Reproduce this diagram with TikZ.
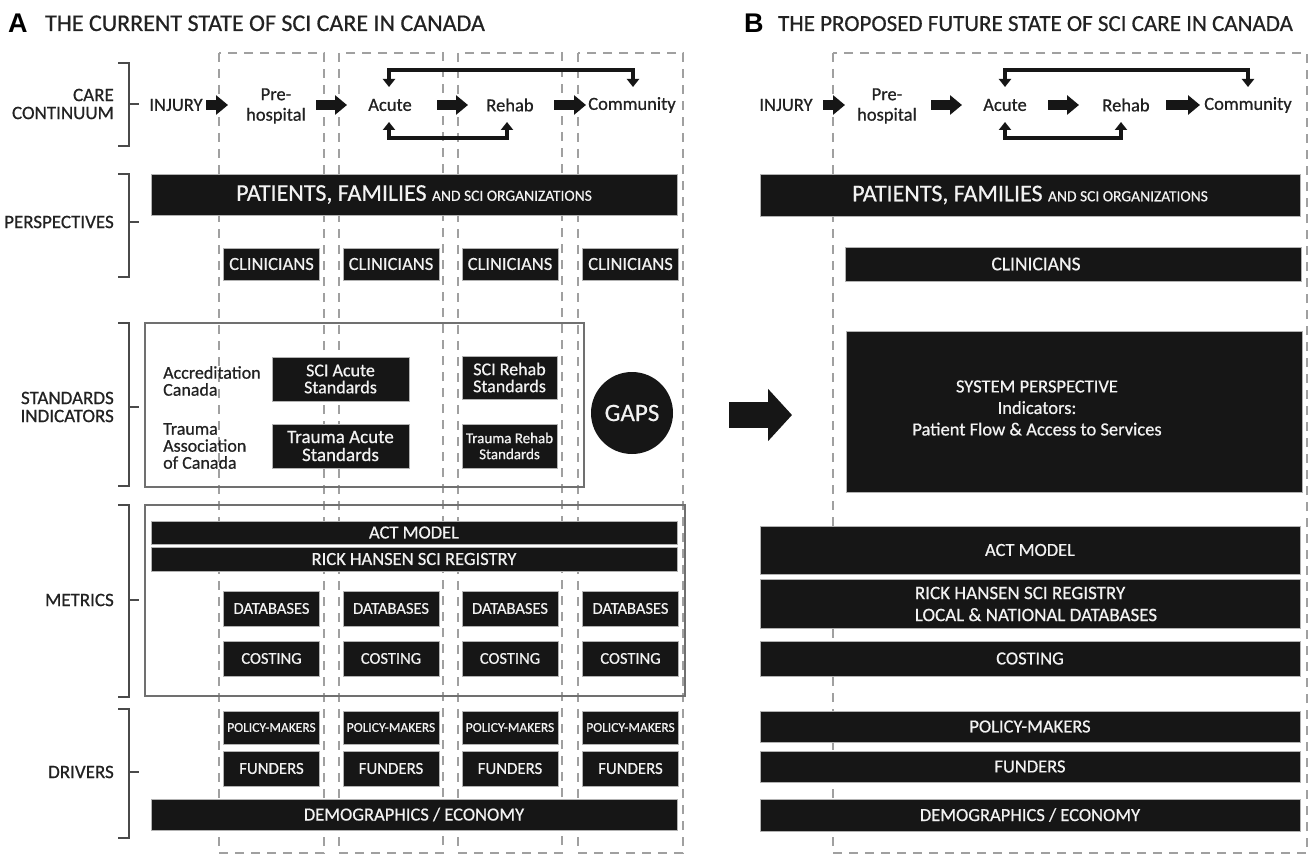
\documentclass[tikz,border=0pt]{standalone}
\usepackage{fontspec}
\setmainfont{Carlito}[FakeBold=0.6]
\newfontfamily\hvfont{Liberation Sans}
\usetikzlibrary{arrows.meta}
\definecolor{boxc}{HTML}{161616}
\definecolor{dashc}{HTML}{A0A0A0}
\definecolor{brc}{HTML}{4A4A4A}
\definecolor{frc}{HTML}{707070}
\definecolor{txw}{HTML}{F2F2F2}
\definecolor{txk}{HTML}{222222}
\newcommand\myfs[1]{\fontsize{#1}{#1}\selectfont}
\tikzset{
  colrect/.style={draw=dashc, line width=1.4pt, dash pattern=on 9pt off 7pt},
  bx/.style={fill=boxc, draw=gray!60, line width=0.7pt, text=txw, inner sep=0pt, align=center, font=\myfs{18.5}},
  lbl/.style={align=right, anchor=east, font=\myfs{19}, text=txk, inner sep=0pt},
  brk/.style={draw=brc, line width=1.5pt},
  frm/.style={draw=frc, line width=2pt},
  blk/.style={line width=10pt, draw=boxc, -{Triangle[length=12pt,width=19pt]}},
  fbk/.style={line width=4pt, draw=boxc, line join=miter, {Triangle[length=8pt,width=12pt]}-{Triangle[length=8pt,width=12pt]}},
  ct/.style={font=\myfs{18.5}, align=center, inner sep=0pt, text=txk},
  wt/.style={font=\myfs{18.5}, align=center, inner sep=0pt, text=txw}
}
\begin{document}
\begin{tikzpicture}[x=1pt, y=-1pt]
\useasboundingbox (0,0) rectangle (1309,856);
\fill[white] (0,0) rectangle (1309,856);

% titles
\node[anchor=base west, inner sep=0pt, font=\hvfont\bfseries\myfs{27}] (tA) at (8,33) {A};
\node[anchor=base west, inner sep=0pt, font=\myfs{24}, text=txk] (tAt) at (45,31) {THE CURRENT STATE OF SCI CARE IN CANADA};
\node[anchor=base west, inner sep=0pt, font=\hvfont\bfseries\myfs{27}] (tB) at (744,33) {B};
\node[anchor=base west, inner sep=0pt, font=\myfs{23}, text=txk] (tBt) at (778,31) {THE PROPOSED FUTURE STATE OF SCI CARE IN CANADA};

% dashed columns
\draw[colrect] (219,53) rectangle (324,853);
\draw[colrect] (339,53) rectangle (443,853);
\draw[colrect] (458,53) rectangle (562,853);
\draw[colrect] (578,53) rectangle (683,853);
\draw[colrect] (833,53) rectangle (1307,853);

% brackets and row labels
\draw[brk] (118,63) -- (129,63) -- (129,146) -- (118,146); \draw[brk] (129,104) -- (139,104);
\draw[brk] (118,174) -- (129,174) -- (129,277) -- (118,277); \draw[brk] (129,222) -- (139,222);
\draw[brk] (118,323) -- (129,323) -- (129,486) -- (118,486); \draw[brk] (129,407) -- (139,407);
\draw[brk] (118,505) -- (129,505) -- (129,697) -- (118,697); \draw[brk] (129,600) -- (139,600);
\draw[brk] (118,709) -- (129,709) -- (129,838) -- (118,838); \draw[brk] (129,772) -- (139,772);
\node[lbl] (lcare) at (114,104) {CARE\\[-1pt]CONTINUUM};
\node[lbl] (lpers) at (114,222) {PERSPECTIVES};
\node[lbl] (lstd) at (114,407) {STANDARDS\\[-1pt]INDICATORS};
\node[lbl] (lmet) at (114,600) {METRICS};
\node[lbl] (ldrv) at (114,772) {DRIVERS};

% care continuum A
\node[ct] (injA) at (176,105) {INJURY};
\node[ct] (preA) at (276,106) {Pre-\\[2pt]hospital};
\node[ct] (acuteA) at (390,105) {Acute};
\node[ct] (rehabA) at (510,105) {Rehab};
\node[ct] (commA) at (632,105) {Community};
\coordinate (a1s) at (206,105); \coordinate (a1e) at (228,105);
\coordinate (a2s) at (316,105); \coordinate (a2e) at (347,105);
\coordinate (a3s) at (437,105); \coordinate (a3e) at (468,105);
\coordinate (a4s) at (554,105); \coordinate (a4e) at (586,105);
\draw[blk] (a1s) -- (a1e);
\draw[blk] (a2s) -- (a2e);
\draw[blk] (a3s) -- (a3e);
\draw[blk] (a4s) -- (a4e);
\coordinate (fa1) at (389,87); \coordinate (fa2) at (633,87);
\draw[fbk] (fa1) |- (510,70) -| (fa2);
\coordinate (fb1) at (389,122); \coordinate (fb2) at (507,122);
\draw[fbk] (fb1) |- (450,138) -| (fb2);

% care continuum B
\node[ct] (injB) at (786,105) {INJURY};
\node[ct] (preB) at (887,106) {Pre-\\[2pt]hospital};
\node[ct] (acuteB) at (1005,105) {Acute};
\node[ct] (rehabB) at (1126,105) {Rehab};
\node[ct] (commB) at (1248,105) {Community};
\coordinate (b1s) at (823,105); \coordinate (b1e) at (845,105);
\coordinate (b2s) at (931,105); \coordinate (b2e) at (962,105);
\coordinate (b3s) at (1048,105); \coordinate (b3e) at (1079,105);
\coordinate (b4s) at (1166,105); \coordinate (b4e) at (1200,105);
\draw[blk] (b1s) -- (b1e);
\draw[blk] (b2s) -- (b2e);
\draw[blk] (b3s) -- (b3e);
\draw[blk] (b4s) -- (b4e);
\coordinate (ga1) at (1005,87); \coordinate (ga2) at (1248,87);
\draw[fbk] (ga1) |- (1120,70) -| (ga2);
\coordinate (gb1) at (1005,122); \coordinate (gb2) at (1121,122);
\draw[fbk] (gb1) |- (1060,138) -| (gb2);

% perspectives A
\node[bx, minimum width=526pt, minimum height=41pt, font=\myfs{24}] (patA) at (414,194.5)
  {PATIENTS, FAMILIES {\myfs{15.5}AND SCI ORGANIZATIONS}};
\foreach \i/\cx in {1/271.5,2/391,3/510,4/630.5}{
  \node[bx, minimum width=96pt, minimum height=32pt] (clinA\i) at (\cx,264) {CLINICIANS};
  \node[bx, minimum width=96pt, minimum height=35pt, font=\myfs{16.5}] (dbA\i) at (\cx,608.5) {DATABASES};
  \node[bx, minimum width=96pt, minimum height=35pt, font=\myfs{16.5}] (costA\i) at (\cx,658.5) {COSTING};
  \node[bx, minimum width=96pt, minimum height=33pt, font=\myfs{13.5}] (polA\i) at (\cx,727.5) {POLICY-MAKERS};
  \node[bx, minimum width=96pt, minimum height=35pt, font=\myfs{16.8}] (fundA\i) at (\cx,768.5) {FUNDERS};
}

% standards A
\draw[frm] (145,323) rectangle (584,487);
\node[anchor=west, align=left, inner sep=0pt, font=\myfs{18}, text=txk] (accr) at (163,381) {Accreditation\\[-1pt]Canada};
\node[anchor=west, align=left, inner sep=0pt, font=\myfs{18}, text=txk] (tac) at (163,446) {Trauma\\[-1pt]Association\\[-1pt]of Canada};
\node[bx, minimum width=137pt, minimum height=44pt, font=\myfs{18}] (sciac) at (340.5,379) {SCI Acute\\[-1pt]Standards};
\node[bx, minimum width=95pt, minimum height=43pt, font=\myfs{18}] (scire) at (509.5,377.5) {SCI Rehab\\[-1pt]Standards};
\node[bx, minimum width=137pt, minimum height=44pt, font=\myfs{19}] (trac) at (340.5,446) {Trauma Acute\\[-1pt]Standards};
\node[bx, minimum width=95pt, minimum height=44pt, font=\myfs{15}] (trre) at (509.5,446) {Trauma Rehab\\[1pt]Standards};
\node[circle, fill=boxc, minimum size=82pt, inner sep=0pt, text=txw, font=\myfs{25}] (gaps) at (632,413) {GAPS};

% metrics A
\draw[frm] (145,505) rectangle (685,696);
\node[bx, minimum width=526pt, minimum height=23pt] (actA) at (414,532.5) {ACT MODEL};
\node[bx, minimum width=526pt, minimum height=24pt] (rickA) at (414,559) {RICK HANSEN SCI REGISTRY};

% drivers A
\node[bx, minimum width=526pt, minimum height=31pt] (demoA) at (414,814.5) {DEMOGRAPHICS / ECONOMY};

% big arrow
\coordinate (bigS) at (729,415); \coordinate (bigE) at (792,415);
\draw[line width=26pt, draw=boxc, -{Triangle[length=24pt,width=51pt]}] (bigS) -- (bigE);

% panel B
\node[bx, minimum width=540pt, minimum height=42pt, font=\myfs{24}] (patB) at (1030,195)
  {PATIENTS, FAMILIES {\myfs{15.5}AND SCI ORGANIZATIONS}};
\node[bx, minimum width=456pt, minimum height=34pt] (clinB) at (1073,264) {};
\node[wt, font=\myfs{19.5}] (clinBt) at (1036,264) {CLINICIANS};
\node[bx, minimum width=456pt, minimum height=161pt] (sysB) at (1074,411.5) {};
\node[wt] (sysBt) at (1037,408) {SYSTEM PERSPECTIVE\\[3pt]Indicators:\\[3pt]Patient Flow \& Access to Services};
\node[bx, minimum width=540pt, minimum height=48pt] (actB) at (1030,550) {ACT MODEL};
\node[bx, minimum width=540pt, minimum height=49pt] (rickB) at (1030,603.5) {};
\node[wt, align=left, font=\myfs{19}] (rickBt) at (1036,604) {RICK HANSEN SCI REGISTRY\\[3pt]LOCAL \& NATIONAL DATABASES};
\node[bx, minimum width=540pt, minimum height=35pt] (costB) at (1030,658.5) {COSTING};
\node[bx, minimum width=540pt, minimum height=31pt] (polB) at (1030,726.5) {POLICY-MAKERS};
\node[bx, minimum width=540pt, minimum height=31pt] (fundB) at (1030,766.5) {FUNDERS};
\node[bx, minimum width=540pt, minimum height=32pt] (demoB) at (1030,815) {DEMOGRAPHICS / ECONOMY};
\end{tikzpicture}
\end{document}
